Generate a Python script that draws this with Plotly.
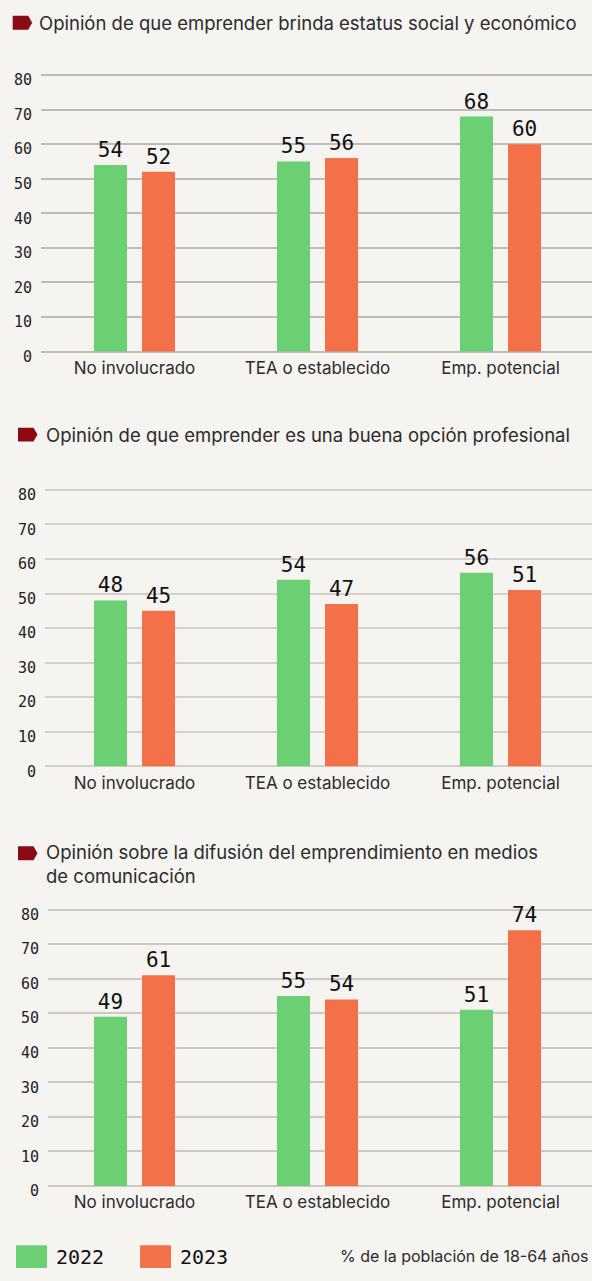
import plotly.graph_objects as go

W, H = 592, 1281

categories = ["No involucrado", "TEA o establecido", "Emp. potencial"]
years = ["2022", "2023"]

status_2022 = [54, 55, 68]
status_2023 = [52, 56, 60]
career_2022 = [48, 54, 56]
career_2023 = [45, 47, 51]
media_2022 = [49, 55, 51]
media_2023 = [61, 54, 74]

titles = [
    "Opinión de que emprender brinda estatus social y económico",
    "Opinión de que emprender es una buena opción profesional",
    "Opinión sobre la difusión del emprendimiento en medios<br>de comunicación",
]
y_ticks = [0, 10, 20, 30, 40, 50, 60, 70, 80]
footnote = "% de la población de 18-64 años"

GREEN = "#6bcf74"
ORANGE = "#f47048"
BG = "#f5f4f0"
DARKRED = "#8b0a14"
TXT = "#2b2b2b"
MONO = "DejaVu Sans Mono"
SANS = "Inter"


def px(x):
    return x / W


def py(y):
    return 1 - y / H


# pixel layout for the three panels: (plot top, plot bottom, plot left, grid colour)
panels = [
    (73, 353, 41, "#bdbbb2"),
    (493, 773, 45, "#d2d0c9"),
    (918, 1198, 48, "#cbc9c2"),
]
series = [
    (status_2022, status_2023),
    (career_2022, career_2023),
    (media_2022, media_2023),
]

unit = 183.0  # pixels per category
pad = 0.35    # small range padding so the 0 and 80 gridlines are drawn
ppu = 3.5     # pixels per value unit
fig = go.Figure()
layout = dict(
    width=W, height=H, margin=dict(l=0, r=0, t=0, b=0),
    paper_bgcolor=BG, plot_bgcolor=BG, showlegend=False,
    barmode="group", bargap=0.475, bargroupgap=0.3125,
    font=dict(family=SANS, color=TXT),
)

for i, ((top, bot, left, gcol), (a, b)) in enumerate(zip(panels, series)):
    sfx = "" if i == 0 else str(i + 1)
    xa, ya = "x" + sfx, "y" + sfx
    for vals, col, yr in ((a, GREEN, years[0]), (b, ORANGE, years[1])):
        fig.add_trace(go.Bar(
            x=categories, y=vals, name=yr, marker=dict(color=col, line=dict(width=0)),
            xaxis=xa, yaxis=ya, texttemplate="%{y}", textposition="outside",
            textfont=dict(family=MONO, size=21, color="#111111"), cliponaxis=False,
        ))
    x_left = 2.5 - (W - left) / unit
    layout["xaxis" + sfx] = dict(
        domain=[px(left), 1], anchor=ya, range=[x_left, 2.5], type="category",
        showgrid=False, showline=False, zeroline=False, ticks="",
        tickfont=dict(family=SANS, size=17, color=TXT), ticklabelstandoff=3,
        fixedrange=True,
    )
    layout["yaxis" + sfx] = dict(
        domain=[py(bot + pad * ppu), py(top - pad * ppu)], anchor=xa,
        range=[-pad, 80 + pad],
        tickvals=y_ticks, showgrid=True, gridcolor=gcol, gridwidth=1.5,
        zeroline=False, showline=False, ticks="",
        tickfont=dict(family=MONO, size=15, color="#222222"),
        ticklabelstandoff=8, ticklabelshift=5, fixedrange=True,
    )

fig.update_layout(**layout)

# panel titles with dark-red tag markers
title_pos = [(12.7, 20, 37, 20), (18, 437, 44, 437), (18, 861, 44, 872)]
shapes = []
for (mx, my, tx, ty), t in zip(title_pos, titles):
    x0, x1, tip = mx, mx + 15.5, mx + 19.5
    y0, y1 = my - 7, my + 7
    path = (f"M {px(x0)},{py(y0)} L {px(x1)},{py(y0)} L {px(tip)},{py(my)} "
            f"L {px(x1)},{py(y1)} L {px(x0)},{py(y1)} Z")
    shapes.append(dict(type="path", path=path, xref="paper", yref="paper",
                       fillcolor=DARKRED, line=dict(width=0)))
    fig.add_annotation(
        text=t, x=px(tx), y=py(ty), xref="paper", yref="paper",
        xanchor="left", yanchor="middle", showarrow=False, align="left",
        font=dict(family=SANS, size=18.5, color=TXT),
    )

# legend at the bottom
leg = [(16, 54, GREEN, years[0]), (140, 178, ORANGE, years[1])]
for sx, tx, col, yr in leg:
    shapes.append(dict(type="rect", xref="paper", yref="paper",
                       x0=px(sx), x1=px(sx + 31), y0=py(1281), y1=py(1258),
                       fillcolor=col, line=dict(width=0)))
    fig.add_annotation(text=yr, x=px(tx), y=py(1270), xref="paper", yref="paper",
                       xanchor="left", yanchor="middle", showarrow=False,
                       font=dict(family=MONO, size=20, color="#111111"))
fig.add_annotation(text=footnote, x=px(590), y=py(1269), xref="paper", yref="paper",
                   xanchor="right", yanchor="middle", showarrow=False,
                   font=dict(family=SANS, size=16, color=TXT))
fig.update_layout(shapes=shapes)

post = (
    "var d=document.getElementById('{plot_id}');"
    "d.style.position='fixed';d.style.left='0';d.style.top='0';"
    "document.documentElement.style.margin='0';document.body.style.margin='0';"
    "document.documentElement.style.height='1281px';document.body.style.height='1281px';"
    "document.documentElement.style.overflow='hidden';document.body.style.overflow='hidden';"
)
fig.write_html("out.html", config={"displayModeBar": False}, post_script=post)
